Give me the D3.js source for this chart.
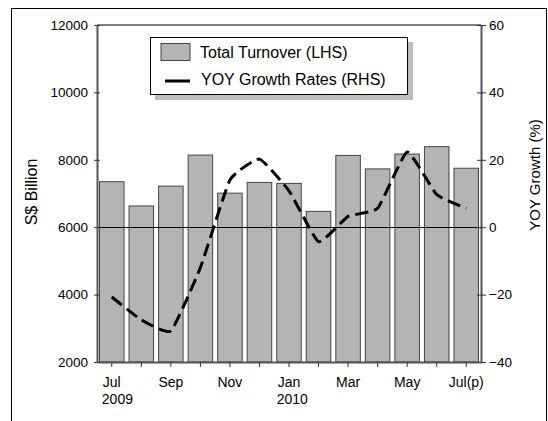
<!DOCTYPE html>
<html><head><meta charset="utf-8">
<script src="https://cdn.jsdelivr.net/npm/d3@7"></script>
<style>
html,body{margin:0;padding:0;background:#fff;}
text{font-family:"Liberation Sans",Arial,sans-serif;fill:#000;}
</style></head>
<body><svg id="c" width="548" height="421"></svg>
<script>
const months = ["Jul","Aug","Sep","Oct","Nov","Dec","Jan","Feb","Mar","Apr","May","Jun","Jul(p)"];
const monthLabels = ["Jul","","Sep","","Nov","","Jan","","Mar","","May","","Jul(p)"];
const yearLabels = ["2009","","","","","","2010","","","","","",""];
const turnover = [7350,6630,7220,8140,7010,7330,7300,6470,8130,7730,8170,8390,7750];
const growth = [-20.7,-27.5,-30.8,-12.0,14.0,20.2,10.8,-4.3,3.2,5.6,22.3,9.7,5.6];
const leftTicks = [2000,4000,6000,8000,10000,12000];
const rightTicks = [-40,-20,0,20,40,60];

const svg = d3.select("#c");
const L=97, R=481, T=25, B=362;

// outer frame
svg.append("rect").attr("x",11.5).attr("y",8.5).attr("width",535).attr("height",420)
  .attr("fill","none").attr("stroke","#000").attr("stroke-width",1);

const x = d3.scaleBand().domain(months).range([L,R]).paddingInner(0.17).paddingOuter(0.085);
const yL = d3.scaleLinear().domain([2000,12000]).range([B,T]);
const yR = d3.scaleLinear().domain([-40,60]).range([B,T]);

// bars
svg.append("g").selectAll("rect").data(turnover).join("rect")
  .attr("x",(d,i)=>x(months[i])).attr("y",d=>yL(d))
  .attr("width",x.bandwidth()).attr("height",d=>B-yL(d))
  .attr("fill","#b4b4b4").attr("stroke","#444").attr("stroke-width",1);

// zero line
svg.append("line").attr("x1",L).attr("x2",R).attr("y1",Math.round(yR(0))+0.5).attr("y2",Math.round(yR(0))+0.5)
  .attr("stroke","#000").attr("stroke-width",1);

// plot frame top
svg.append("line").attr("x1",L).attr("x2",R).attr("y1",T).attr("y2",T).attr("stroke","#555").attr("stroke-width",1.5);

// left axis
const gl = svg.append("g").attr("transform",`translate(${L},0)`)
  .call(d3.axisLeft(yL).tickValues(leftTicks).tickFormat(d3.format("d")).tickSizeInner(3).tickSizeOuter(0).tickPadding(6));
gl.select(".domain").attr("stroke","#555").attr("stroke-width",2);
gl.selectAll(".tick line").attr("x2",3).attr("x1",-3).attr("stroke","#333");
gl.selectAll(".tick text").attr("x",-9).style("font-size","13.5px").style("font-family","Liberation Sans, Arial, sans-serif");

// right axis
const gr = svg.append("g").attr("transform",`translate(${R},0)`)
  .call(d3.axisRight(yR).tickValues(rightTicks).tickSizeInner(4).tickSizeOuter(0).tickPadding(6));
gr.select(".domain").attr("stroke","#555").attr("stroke-width",2);
gr.selectAll(".tick line").attr("x1",-4).attr("x2",5).attr("stroke","#333");
gr.selectAll(".tick text").attr("x",8).style("font-size","13.5px").style("font-family","Liberation Sans, Arial, sans-serif");

// bottom axis
const gb = svg.append("g").attr("transform",`translate(0,${B})`)
  .call(d3.axisBottom(x).tickSizeInner(5).tickSizeOuter(0).tickFormat((d,i)=>monthLabels[i]).tickPadding(10));
gb.select(".domain").attr("stroke","#555").attr("stroke-width",2);
gb.selectAll(".tick line").attr("stroke","#333");
gb.selectAll(".tick text").style("font-size","14px").style("font-family","Liberation Sans, Arial, sans-serif")
  .attr("dy",null).attr("y",25);

// year labels, left aligned to month label start
const yearG = svg.append("g");
months.forEach((m,i)=>{
  if(!yearLabels[i]) return;
  const tmp = svg.append("text").style("font-size","14px").text(monthLabels[i]);
  const w = tmp.node().getComputedTextLength(); tmp.remove();
  yearG.append("text").attr("x",x(m)+x.bandwidth()/2-w/2-1).attr("y",404)
    .style("font-size","14px").text(yearLabels[i]);
});

// growth line
const line = d3.line().x((d,i)=>x(months[i])+x.bandwidth()/2).y(d=>yR(d)).curve(d3.curveCardinal.tension(0.6));
svg.append("path").datum(growth).attr("d",line).attr("fill","none")
  .attr("stroke","#000").attr("stroke-width",3).attr("stroke-dasharray","13,6");

// axis titles
svg.append("text").attr("transform","translate(37,192) rotate(-90)").attr("text-anchor","middle")
  .style("font-size","16px").text("S$ Billion");
svg.append("text").attr("transform","translate(540,175) rotate(-90)").attr("text-anchor","middle")
  .style("font-size","15px").text("YOY Growth (%)");

// legend
const lg = svg.append("g");
lg.append("rect").attr("x",155).attr("y",42).attr("width",258).attr("height",58).attr("fill","#bdbdbd");
lg.append("rect").attr("x",150.5).attr("y",37.5).attr("width",257).attr("height",57).attr("fill","#fff").attr("stroke","#000");
lg.append("rect").attr("x",161).attr("y",43.5).attr("width",29).attr("height",17).attr("fill","#b4b4b4").attr("stroke","#444");
lg.append("line").attr("x1",165).attr("x2",190).attr("y1",81).attr("y2",81).attr("stroke","#000").attr("stroke-width",3);
lg.append("text").attr("x",200).attr("y",58).style("font-size","16px").text("Total Turnover (LHS)");
lg.append("text").attr("x",201).attr("y",85).style("font-size","16px").text("YOY Growth Rates (RHS)");
</script></body></html>
